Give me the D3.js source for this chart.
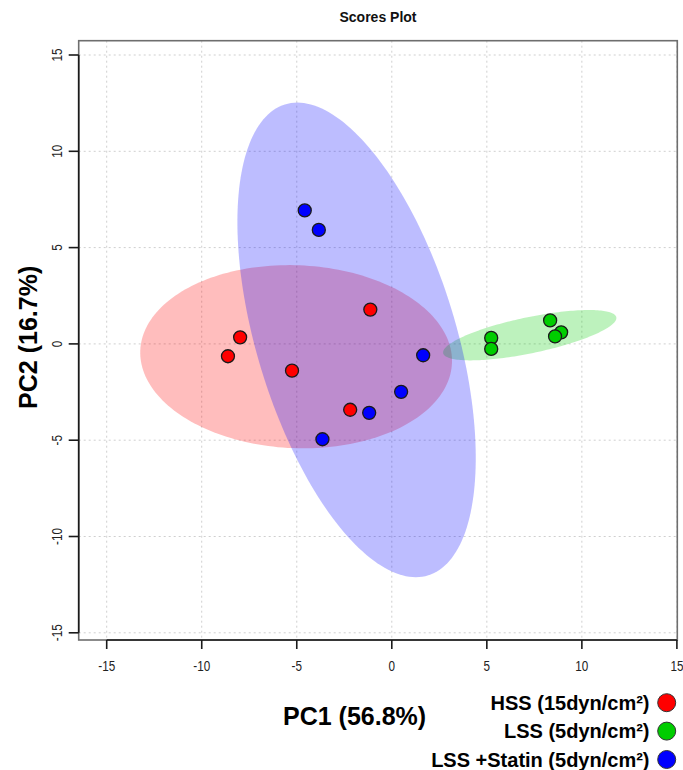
<!DOCTYPE html>
<html>
<head>
<meta charset="utf-8">
<script src="https://cdn.jsdelivr.net/npm/d3@7"></script>
<style>
  html, body { margin: 0; padding: 0; background: #fff; }
  svg { display: block; font-family: "Liberation Sans", Arial, sans-serif; }
</style>
</head>
<body>
<svg id="chart" width="683" height="770"></svg>
<script>
// ---- data ----
const groupNames = ["HSS (15dyn/cm²)", "LSS (5dyn/cm²)", "LSS +Statin (5dyn/cm²)"];
const groupColors = ["#ff0000", "#00cd00", "#0000ff"];
const hssPC1 = [-1.13, -7.98, -8.62, -5.25, -2.19];
const hssPC2 = [1.78, 0.34, -0.64, -1.39, -3.42];
const lssPC1 = [5.23, 5.23, 8.33, 8.91, 8.59];
const lssPC2 = [0.31, -0.26, 1.22, 0.60, 0.39];
const statPC1 = [-4.58, -3.84, 1.65, 0.49, -1.19, -3.65];
const statPC2 = [6.93, 5.92, -0.59, -2.49, -3.58, -4.95];
const xTicks = [-15, -10, -5, 0, 5, 10, 15];
const yTicks = [-15, -10, -5, 0, 5, 10, 15];
const titleText = "Scores Plot";
const xLabel = "PC1 (56.8%)";
const yLabel = "PC2 (16.7%)";

const groups = [
  {name: groupNames[0], color: groupColors[0], x: hssPC1, y: hssPC2},
  {name: groupNames[1], color: groupColors[1], x: lssPC1, y: lssPC2},
  {name: groupNames[2], color: groupColors[2], x: statPC1, y: statPC2}
];

// ---- layout ----
const box = {left: 78.7, right: 677.3, top: 40.7, bottom: 640};
const x = d3.scaleLinear().domain([-15, 15]).range([106.7, 676.9]);
const y = d3.scaleLinear().domain([-15, 15]).range([632.8, 55]);

const svg = d3.select("#chart");

// grid
const grid = svg.append("g").attr("stroke", "#cfcfcf").attr("stroke-width", 1).attr("stroke-dasharray", "2,3");
grid.selectAll("line.v").data(xTicks).join("line")
  .attr("x1", d => x(d)).attr("x2", d => x(d))
  .attr("y1", box.top).attr("y2", box.bottom);
grid.selectAll("line.h").data(yTicks).join("line")
  .attr("y1", d => y(d)).attr("y2", d => y(d))
  .attr("x1", box.left).attr("x2", box.right);

// 95% confidence ellipses from each group's sample covariance
const tChi = Math.sqrt(5.991464547);
function ellipsePts(g) {
  const n = g.x.length;
  const mx = d3.mean(g.x), my = d3.mean(g.y);
  let sxx = 0, syy = 0, sxy = 0;
  for (let i = 0; i < n; i++) {
    const dx = g.x[i] - mx, dy = g.y[i] - my;
    sxx += dx * dx; syy += dy * dy; sxy += dx * dy;
  }
  sxx /= (n - 1); syy /= (n - 1); sxy /= (n - 1);
  const tr = (sxx + syy) / 2;
  const disc = Math.sqrt(((sxx - syy) / 2) ** 2 + sxy * sxy);
  const l1 = tr + disc, l2 = tr - disc;
  const th = 0.5 * Math.atan2(2 * sxy, sxx - syy);
  const a = tChi * Math.sqrt(l1), b = tChi * Math.sqrt(Math.max(l2, 0));
  const pts = [];
  for (let k = 0; k <= 200; k++) {
    const p = 2 * Math.PI * k / 200;
    const ex = a * Math.cos(p), ey = b * Math.sin(p);
    pts.push([mx + ex * Math.cos(th) - ey * Math.sin(th), my + ex * Math.sin(th) + ey * Math.cos(th)]);
  }
  return pts;
}
const line = d3.line().x(d => x(d[0])).y(d => y(d[1])).curve(d3.curveLinearClosed);
svg.append("g").selectAll("path").data(groups).join("path")
  .attr("d", g => line(ellipsePts(g)))
  .attr("fill", g => g.color)
  .attr("fill-opacity", 0.26)
  .attr("stroke", "none");

// box
svg.append("rect")
  .attr("x", box.left).attr("y", box.top)
  .attr("width", box.right - box.left).attr("height", box.bottom - box.top)
  .attr("fill", "none").attr("stroke", "#6e6e6e").attr("stroke-width", 1.6);

// axes
const axisG = svg.append("g").attr("stroke", "#1a1a1a").attr("stroke-width", 1.6).attr("fill", "none");
axisG.append("line").attr("x1", box.left).attr("x2", box.left).attr("y1", y(15)).attr("y2", y(-15));
axisG.append("line").attr("y1", box.bottom).attr("y2", box.bottom).attr("x1", x(-15)).attr("x2", x(15));
axisG.selectAll("line.yt").data(yTicks).join("line")
  .attr("x1", box.left - 10).attr("x2", box.left).attr("y1", d => y(d)).attr("y2", d => y(d));
axisG.selectAll("line.xt").data(xTicks).join("line")
  .attr("y1", box.bottom).attr("y2", box.bottom + 9).attr("x1", d => x(d)).attr("x2", d => x(d));

// tick labels (narrow)
svg.append("g").selectAll("text").data(xTicks).join("text")
  .attr("transform", d => `translate(${x(d)},671) scale(0.78,1)`)
  .attr("text-anchor", "middle").attr("font-size", 15).attr("fill", "#222")
  .text(d => String(d));
svg.append("g").selectAll("text").data(yTicks).join("text")
  .attr("transform", d => `translate(62,${y(d)}) rotate(-90) scale(0.78,1)`)
  .attr("text-anchor", "middle").attr("font-size", 15).attr("fill", "#222")
  .text(d => String(d));

// points
groups.forEach(g => {
  svg.append("g").selectAll("circle").data(g.x.map((v, i) => [v, g.y[i]])).join("circle")
    .attr("cx", d => x(d[0])).attr("cy", d => y(d[1])).attr("r", 6.5)
    .attr("fill", g.color).attr("stroke", "#1a1a1a").attr("stroke-width", 1.3);
});

// title
svg.append("text").attr("x", 378).attr("y", 22).attr("text-anchor", "middle")
  .attr("font-size", 14).attr("font-weight", "bold").attr("fill", "#111")
  .text(titleText);

// axis titles
svg.append("text").attr("x", 283).attr("y", 725)
  .attr("font-size", 25).attr("font-weight", "bold").attr("fill", "#000")
  .text(xLabel);
svg.append("text").attr("transform", `translate(37,${(box.top + box.bottom) / 2 - 3}) rotate(-90)`)
  .attr("text-anchor", "middle")
  .attr("font-size", 25).attr("font-weight", "bold").attr("fill", "#000")
  .text(yLabel);

// legend
const leg = svg.append("g");
groups.forEach((g, i) => {
  const by = 710 + i * 28.4;
  leg.append("text").attr("x", 649.5).attr("y", by).attr("text-anchor", "end")
    .attr("font-size", 20).attr("font-weight", "bold").attr("fill", "#000")
    .text(g.name);
  leg.append("circle").attr("cx", 666.7).attr("cy", by - 7.3).attr("r", 9)
    .attr("fill", g.color).attr("stroke", "#333").attr("stroke-width", 1);
});
</script>
</body>
</html>
